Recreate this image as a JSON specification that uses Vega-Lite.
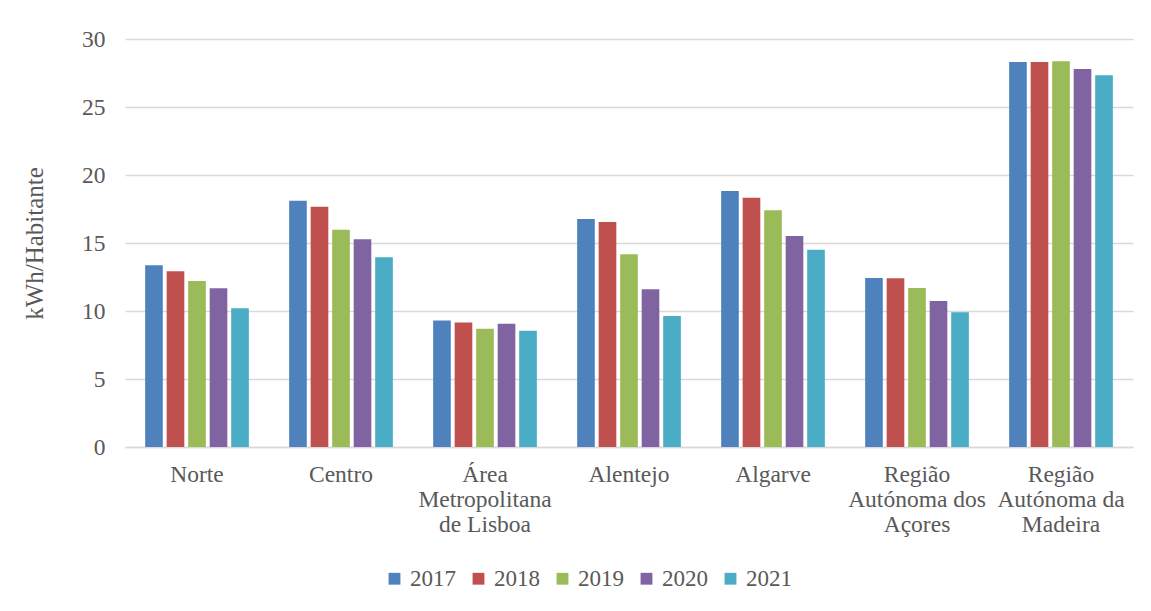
{
  "$schema": "https://vega.github.io/schema/vega-lite/v6.json",
  "width": 1008,
  "height": 408,
  "autosize": {"type": "none"},
  "padding": {"left": 125, "top": 39, "right": 18, "bottom": 164},
  "background": "white",
  "config": {
    "font": "Liberation Serif",
    "view": {"stroke": null},
    "axis": {"labelFont": "Liberation Serif", "titleFont": "Liberation Serif", "labelColor": "#595959", "titleColor": "#595959"}
  },
  "data": {
    "values": [
      {"regiao": "Norte", "ano": "2017", "valor": 13.36},
      {"regiao": "Norte", "ano": "2018", "valor": 12.92},
      {"regiao": "Norte", "ano": "2019", "valor": 12.2},
      {"regiao": "Norte", "ano": "2020", "valor": 11.67},
      {"regiao": "Norte", "ano": "2021", "valor": 10.2},
      {"regiao": "Centro", "ano": "2017", "valor": 18.11},
      {"regiao": "Centro", "ano": "2018", "valor": 17.67},
      {"regiao": "Centro", "ano": "2019", "valor": 15.98},
      {"regiao": "Centro", "ano": "2020", "valor": 15.27},
      {"regiao": "Centro", "ano": "2021", "valor": 13.95},
      {"regiao": "Área Metropolitana de Lisboa", "ano": "2017", "valor": 9.3},
      {"regiao": "Área Metropolitana de Lisboa", "ano": "2018", "valor": 9.15},
      {"regiao": "Área Metropolitana de Lisboa", "ano": "2019", "valor": 8.7},
      {"regiao": "Área Metropolitana de Lisboa", "ano": "2020", "valor": 9.07},
      {"regiao": "Área Metropolitana de Lisboa", "ano": "2021", "valor": 8.55},
      {"regiao": "Alentejo", "ano": "2017", "valor": 16.76},
      {"regiao": "Alentejo", "ano": "2018", "valor": 16.54},
      {"regiao": "Alentejo", "ano": "2019", "valor": 14.17},
      {"regiao": "Alentejo", "ano": "2020", "valor": 11.6},
      {"regiao": "Alentejo", "ano": "2021", "valor": 9.63},
      {"regiao": "Algarve", "ano": "2017", "valor": 18.82},
      {"regiao": "Algarve", "ano": "2018", "valor": 18.33},
      {"regiao": "Algarve", "ano": "2019", "valor": 17.4},
      {"regiao": "Algarve", "ano": "2020", "valor": 15.51},
      {"regiao": "Algarve", "ano": "2021", "valor": 14.51},
      {"regiao": "Região Autónoma dos Açores", "ano": "2017", "valor": 12.43},
      {"regiao": "Região Autónoma dos Açores", "ano": "2018", "valor": 12.4},
      {"regiao": "Região Autónoma dos Açores", "ano": "2019", "valor": 11.69},
      {"regiao": "Região Autónoma dos Açores", "ano": "2020", "valor": 10.74},
      {"regiao": "Região Autónoma dos Açores", "ano": "2021", "valor": 9.9},
      {"regiao": "Região Autónoma da Madeira", "ano": "2017", "valor": 28.31},
      {"regiao": "Região Autónoma da Madeira", "ano": "2018", "valor": 28.31},
      {"regiao": "Região Autónoma da Madeira", "ano": "2019", "valor": 28.36},
      {"regiao": "Região Autónoma da Madeira", "ano": "2020", "valor": 27.79},
      {"regiao": "Região Autónoma da Madeira", "ano": "2021", "valor": 27.33}
    ]
  },
  "mark": {"type": "bar"},
  "encoding": {
    "x": {
      "field": "regiao", "type": "nominal", "sort": null,
      "scale": {"paddingInner": 0.28, "paddingOuter": 0.14},
      "axis": {
        "title": null, "labelAngle": 0, "labelFontSize": 23.5, "labelPadding": 15,
        "labelLineHeight": 25, "ticks": false, "domainColor": "#D9D9D9", "domainWidth": 1.5,
        "labelFont": "Liberation Serif", "labelColor": "#595959",
        "labelExpr": "datum.value == 'Área Metropolitana de Lisboa' ? ['Área', 'Metropolitana', 'de Lisboa'] : datum.value == 'Região Autónoma dos Açores' ? ['Região', 'Autónoma dos', 'Açores'] : datum.value == 'Região Autónoma da Madeira' ? ['Região', 'Autónoma da', 'Madeira'] : datum.value"
      }
    },
    "xOffset": {"field": "ano", "type": "nominal", "scale": {"paddingInner": 0.18}},
    "y": {
      "field": "valor", "type": "quantitative",
      "scale": {"domain": [0, 30], "nice": false},
      "axis": {
        "title": "kWh/Habitante", "titleFontSize": 25, "titleFontWeight": "normal", "titlePadding": 34,
        "labelFontSize": 23.5, "labelPadding": 20, "ticks": false, "domain": false,
        "labelFont": "Liberation Serif", "titleFont": "Liberation Serif",
        "values": [0, 5, 10, 15, 20, 25, 30], "labelOverlap": false,
        "gridColor": "#D9D9D9", "gridWidth": 1.5
      }
    },
    "color": {
      "field": "ano", "type": "nominal",
      "scale": {"domain": ["2017", "2018", "2019", "2020", "2021"], "range": ["#4F81BD", "#C0504D", "#9BBB59", "#8064A2", "#4BACC6"]},
      "legend": {
        "title": null, "orient": "none", "direction": "horizontal", "legendX": 258, "legendY": 528,
        "symbolType": "square", "symbolSize": 140, "symbolStrokeWidth": 0, "labelFontSize": 23, "labelColor": "#595959",
        "labelFont": "Liberation Serif", "columnPadding": 11, "labelOffset": 4
      }
    }
  }
}
